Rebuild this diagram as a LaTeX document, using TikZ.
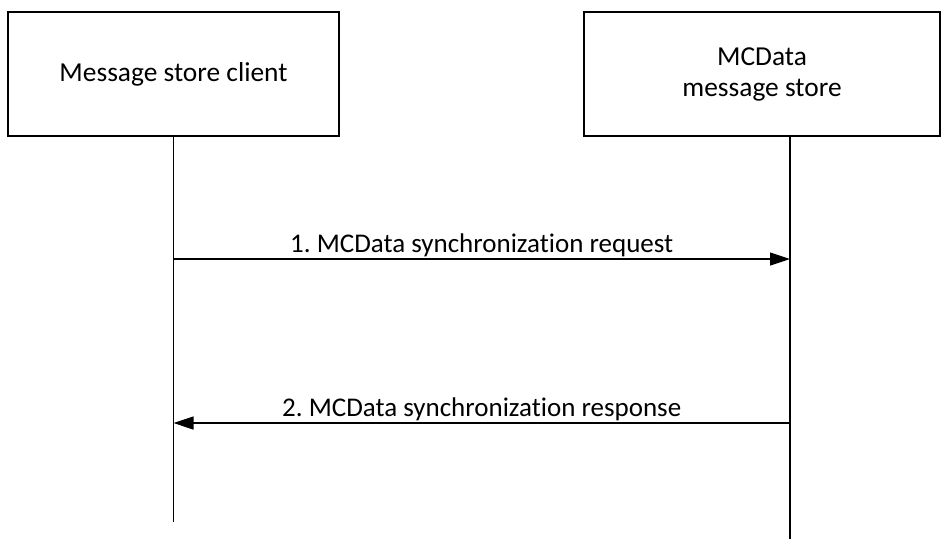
\documentclass[tikz,border=0pt]{standalone}
\usepackage{fontspec}
\setmainfont{Carlito}[RawFeature={-liga}]
\frenchspacing
\usetikzlibrary{arrows.meta}
\tikzset{
  actor/.style={draw,rectangle,line width=1.2pt,align=center,minimum height=124pt,font=\fontsize{27.4}{31}\selectfont},
  life/.style={line width=1.2pt},
  call/.style={line width=1.2pt,-{Triangle[length=20pt,width=13pt]}},
  msg/.style={font=\fontsize{27}{31}\selectfont,anchor=base,inner sep=0pt,yshift=7pt},
}

\begin{document}
\begin{tikzpicture}[x=1pt,y=-1pt]
  \useasboundingbox (0,0) rectangle (941,539);
  \node[actor,minimum width=331pt] (client) at (173.5,74) {Message store client};
  \node[actor,minimum width=356pt] (store) at (762,74) {MCData\\message store};
  \coordinate (clientend) at (173.5,522);
  \coordinate (storeend) at (790,539);
  \draw[life] (client.south) -- (clientend);
  \draw[life] (store.south -| storeend) -- (storeend);
  \coordinate (c1) at (173.5,259);
  \coordinate (s1) at (790,259);
  \coordinate (s2) at (790,423);
  \coordinate (c2) at (173.5,423);
  \draw[call] (c1) -- node[msg] {1. MCData synchronization request} (s1);
  \draw[call] (s2) -- node[msg] {2. MCData synchronization response} (c2);
\end{tikzpicture}
\end{document}
